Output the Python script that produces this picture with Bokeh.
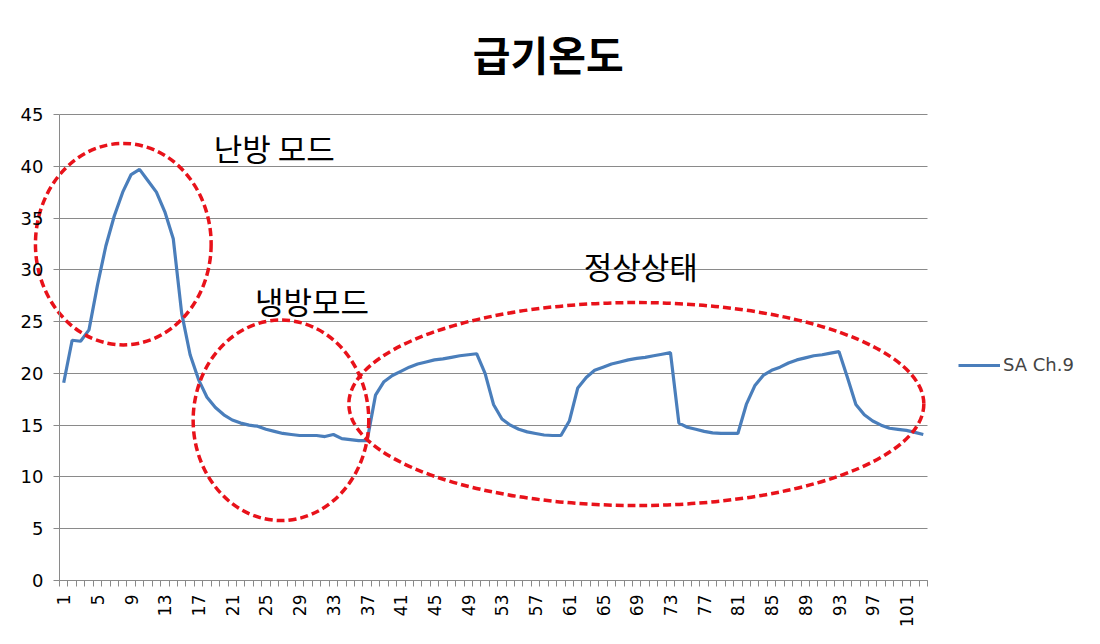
import numpy as np
from bokeh.plotting import figure
from bokeh.models import (Range1d, FixedTicker, Legend, LegendItem, ColumnDataSource)
from bokeh.core.properties import value
from bokeh.embed import file_html
from bokeh.resources import INLINE

# ---- data ----
categories = list(range(1, 104))
sa_ch9 = [
    19.1, 23.2, 23.1, 24.2, 28.5, 32.3, 35.2, 37.5, 39.2, 39.7,
    38.6, 37.5, 35.6, 33.0, 25.8, 21.8, 19.4, 17.7, 16.7, 16.0,
    15.5, 15.2, 15.0, 14.9, 14.6, 14.4, 14.2, 14.1, 14.0, 14.0,
    14.0, 13.9, 14.1, 13.7, 13.6, 13.5, 13.5, 17.9, 19.2, 19.8,
    20.2, 20.6, 20.9, 21.1, 21.3, 21.4, 21.55, 21.7, 21.8, 21.9,
    20.0, 17.0, 15.6, 15.0, 14.6, 14.35, 14.2, 14.05, 14.0, 14.0,
    15.4, 18.6, 19.6, 20.3, 20.6, 20.9, 21.1, 21.3, 21.45, 21.55,
    21.7, 21.85, 22.0, 15.2, 14.8, 14.6, 14.4, 14.25, 14.2, 14.2,
    14.2, 17.0, 18.8, 19.8, 20.3, 20.6, 21.0, 21.3, 21.5, 21.7,
    21.8, 21.95, 22.1, 19.6, 17.0, 16.0, 15.4, 15.0, 14.7, 14.6,
    14.5, 14.3, 14.1,
]
series_name = "SA Ch.9"
title_text = "급기온도"
y_ticks = [0, 5, 10, 15, 20, 25, 30, 35, 40, 45]
x_tick_labels = list(range(1, 104, 4))

# annotation shapes (category / value units)
ell_x = [8.07, 26.78, 68.95]
ell_y = [32.48, 15.47, 17.04]
ell_w = [20.85, 20.84, 68.23]
ell_h = [19.46, 19.37, 19.6]
note_text = ["난방 모드", "냉방모드", "정상상태"]
note_x = [18.8, 23.7, 62.7]
note_y = [41.8, 27.0, 30.4]
title_pos = (58.5, 50.9)

RED = "#E8121A"
BLUE = "#4A7EBB"
GRID = "#8A8A8A"
FONT = "DejaVu Sans"
KFONT = "Noto Sans CJK KR"

n = len(categories)
W, H = 1084, 636
px_x = 868 / 103.0     # pixels per category
px_y = 466 / 45.0      # pixels per degree
x_lo = 0.5 - 59 / px_x
x_hi = x_lo + W / px_x
y_lo = -(H - 580) / px_y
y_hi = 580 / px_y

# the drawing area covers the whole canvas so the overhanging ellipse,
# the title and the legend are not clipped; axes are pinned at 0.5 / 0
p = figure(frame_width=W, frame_height=H, min_border=0, output_backend="svg",
           toolbar_location=None, x_range=Range1d(x_lo, x_hi),
           y_range=Range1d(y_lo, y_hi))
p.outline_line_color = None
p.background_fill_color = "white"
p.border_fill_color = "white"

line = p.line(categories, sa_ch9, line_color=BLUE, line_width=3.2)

src = ColumnDataSource(dict(x=ell_x, y=ell_y, w=ell_w, h=ell_h))
p.ellipse(x="x", y="y", width="w", height="h", source=src, fill_alpha=0,
          line_color=RED, line_width=3.5, line_dash="8 4")

tsrc = ColumnDataSource(dict(x=note_x, y=note_y, t=note_text))
p.text(x="x", y="y", text="t", source=tsrc, text_font=value(KFONT),
       text_font_size="31px", text_baseline="middle", text_align="left",
       text_color="black")

p.text(x=[title_pos[0]], y=[title_pos[1]], text=[title_text], text_font=value(KFONT),
       text_font_size="41px", text_font_style="bold", text_baseline="middle",
       text_align="center", text_color="black")

# axes
p.xgrid.visible = False
p.ygrid.grid_line_color = GRID
p.ygrid.ticker = FixedTicker(ticks=y_ticks)
p.ygrid.cross_bounds = (0.5, n + 0.5)

p.yaxis.fixed_location = 0.5
p.yaxis.bounds = (0, 45)
p.yaxis.ticker = FixedTicker(ticks=y_ticks)
p.yaxis.axis_line_color = GRID
p.yaxis.major_tick_line_color = GRID
p.yaxis.major_tick_out = 6
p.yaxis.major_tick_in = 0
p.yaxis.minor_tick_line_color = None
p.yaxis.major_label_text_font = FONT
p.yaxis.major_label_text_font_size = "18px"
p.yaxis.major_label_text_color = "black"
p.yaxis.major_label_standoff = 10

bounds = [i + 0.5 for i in range(0, n + 1)]
p.xaxis.fixed_location = 0
p.xaxis.ticker = FixedTicker(ticks=x_tick_labels, minor_ticks=bounds)
p.xaxis.bounds = (0.5, n + 0.5)
p.xaxis.axis_line_color = GRID
p.xaxis.major_tick_out = 0
p.xaxis.major_tick_in = 0
p.xaxis.minor_tick_line_color = GRID
p.xaxis.minor_tick_out = 6
p.xaxis.minor_tick_in = 0
p.xaxis.major_label_orientation = np.pi / 2
p.xaxis.major_label_text_font = FONT
p.xaxis.major_label_text_font_size = "17px"
p.xaxis.major_label_text_color = "black"
p.xaxis.major_label_standoff = 8

legend = Legend(items=[LegendItem(label=series_name, renderers=[line])],
                location=(958, 261), border_line_alpha=0, background_fill_alpha=0,
                padding=0, margin=0, glyph_width=42, glyph_height=20,
                label_standoff=3, label_text_font=FONT, label_text_font_size="18px")
p.add_layout(legend)

open("out.html", "w").write(file_html(p, INLINE))
